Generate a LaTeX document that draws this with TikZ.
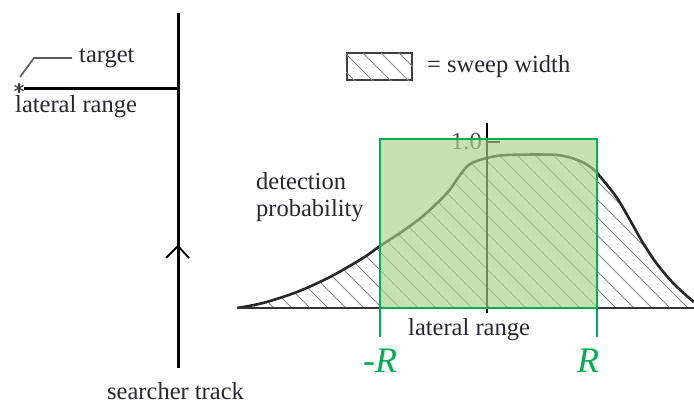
\documentclass[tikz,border=0pt]{standalone}
\usepackage{fontspec}
\setmainfont{Liberation Serif}
\definecolor{txt}{HTML}{2A2630}
\definecolor{gline}{HTML}{00B050}
\definecolor{gfill}{HTML}{A9D18E}
\definecolor{hatch}{HTML}{8A8A8A}
\begin{document}
\begin{tikzpicture}[x=1pt,y=-1pt,
  lbl/.style={anchor=base west,inner sep=0pt,text=txt,font=\fontsize{24.5}{28}\selectfont},
  rlbl/.style={anchor=base,inner sep=0pt,text=gline,font=\fontsize{36}{40}\selectfont\itshape},
  thick line/.style={line width=3pt,black},
  hatchline/.style={line width=0.8pt,hatch},
  starline/.style={line width=1.3pt,black!75}]
\useasboundingbox (0,0) rectangle (694,406);
% searcher track
\coordinate (trTop) at (178,13);
\coordinate (trBot) at (178,368);
\draw[thick line] (trTop) -- (trBot);
\coordinate (chL) at (166,258);
\coordinate (chA) at (178,246);
\coordinate (chR) at (189,258);
\draw[line width=1.8pt,black,line join=miter] (chL) -- (chA) -- (chR);
% lateral range line and target
\coordinate (tgt) at (24,89);
\draw[thick line] (tgt) -- (trTop |- tgt);
\coordinate (star) at (19,88);
\draw[starline] ([yshift=-5pt]star) -- ([yshift=5pt]star);
\draw[starline] ([shift={(-4.5pt,-2.5pt)}]star) -- ([shift={(4.5pt,2.5pt)}]star);
\draw[starline] ([shift={(-4.5pt,2.5pt)}]star) -- ([shift={(4.5pt,-2.5pt)}]star);
\coordinate (ld1) at (20,77);
\coordinate (ld2) at (34,58);
\coordinate (ld3) at (72,58);
\draw[line width=1.6pt,black!65] (ld1) -- (ld2) -- (ld3);
\node[lbl] (target) at (79,63) {target};
\node[lbl] (lr1) at (15,113) {lateral range};
\node[lbl] (st) at (107,399) {searcher track};
% legend
\node[draw=black!75,line width=2pt,minimum width=65pt,minimum height=27pt,inner sep=0pt] (leg) at (379.5,66.5) {};
\begin{scope}
  \clip (leg.south west) rectangle (leg.north east);
  \foreach \k in {-20,-2,...,80} {
    \draw[hatchline] (347+\k,53) -- ++(30,30);
  }
\end{scope}
\node[lbl] (sw) at (427,73) {= sweep width};
% curve hatch
\def\curve{(237,308) (263,303) (297,292) (330,277) (363,258) (380,246) (400,233) (423,216) (447,193) (460,175) (470,164) (487,158) (507,155) (557,155) (580,161) (593,169) (603,180) (617,198) (630,220) (643,243) (657,264) (673,283) (688,297) (694,302)}
\begin{scope}
  \clip plot[smooth,tension=0.5] coordinates {\curve} -- (694,308) -- (237,308) -- cycle;
  \foreach \k in {0,18,...,640} {
    \draw[hatchline] (60+\k,130) -- ++(180,180);
  }
\end{scope}
\draw[line width=2.6pt,black!85,line join=round] plot[smooth,tension=0.5] coordinates {\curve};
% axes
\coordinate (axL) at (237,308);
\coordinate (axR) at (694,308);
\draw[line width=2.4pt,black!80] (axL) -- (axR);
\coordinate (vT) at (487,123);
\coordinate (vB) at (487,313);
\draw[line width=2.8pt,black] (vT) -- (vB);
\coordinate (tk) at (500,142);
\draw[line width=2pt,black] (vT |- tk) -- (tk);
\node[lbl,text=black!70] (one) at (451,150) {1.0};
\node[lbl] (dp1) at (256,190) {detection};
\node[lbl] (dp2) at (256,217) {probability};
\node[lbl] (lr2) at (408,335) {lateral range};
% green box
\coordinate (gA) at (380,139);
\coordinate (gB) at (597,308);
\fill[gfill,opacity=0.65] (gA) rectangle (gB);
\draw[gline,line width=2.6pt] (gA) rectangle (gB);
\coordinate (gL) at (380,337);
\coordinate (gR) at (597,337);
\draw[gline,line width=2.6pt] (gA |- gB) -- (gL);
\draw[gline,line width=2.6pt] (gB) -- (gR);
\node[rlbl] (mR) at (380,372) {-R};
\node[rlbl] (pR) at (588,372) {R};
\end{tikzpicture}
\end{document}
